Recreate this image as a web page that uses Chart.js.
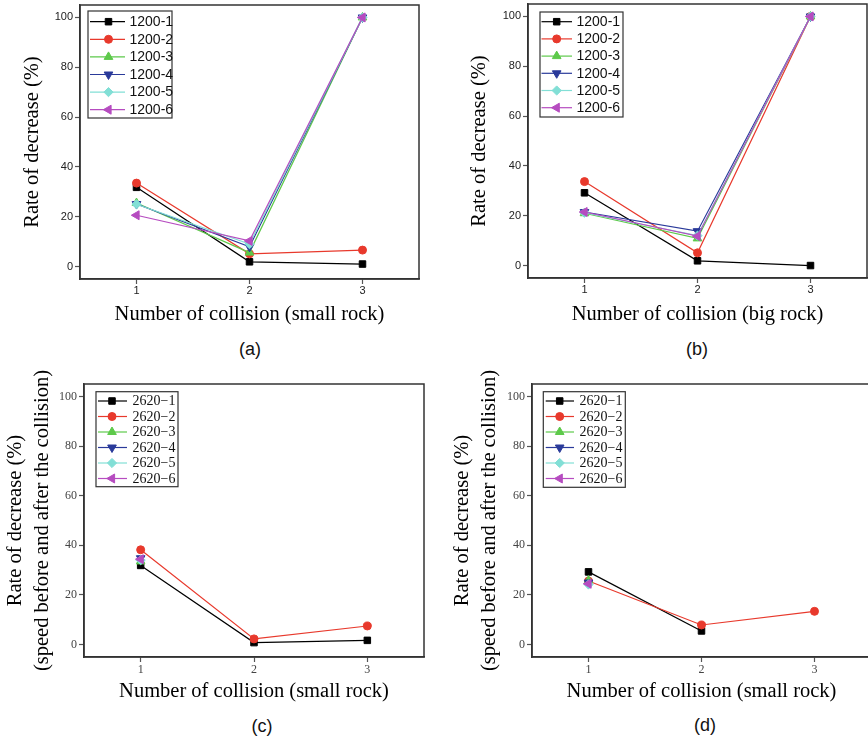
<!DOCTYPE html>
<html>
<head>
<meta charset="utf-8">
<script src="https://cdn.jsdelivr.net/npm/chart.js"></script>
<style>
  html, body { margin:0; padding:0; background:#fff; }
  body { width:868px; height:739px; overflow:hidden; position:relative; }
  canvas { position:absolute; }
  .cap { position:absolute; font-family:'Liberation Sans', Arial, sans-serif; font-size:18px; color:#111; transform:translate(-50%,-50%); white-space:nowrap; }
</style>
</head>
<body>
<canvas id="ca" width="434" height="330" style="left:0px;top:0px;width:434px;height:330px"></canvas>
<canvas id="cb" width="434" height="330" style="left:434px;top:0px;width:434px;height:330px"></canvas>
<canvas id="cc" width="434" height="340" style="left:0px;top:370px;width:434px;height:340px"></canvas>
<canvas id="cd" width="440" height="340" style="left:434px;top:370px;width:440px;height:340px"></canvas>
<div class="cap" style="left:250px;top:349px">(a)</div>
<div class="cap" style="left:697px;top:349px">(b)</div>
<div class="cap" style="left:262px;top:726px">(c)</div>
<div class="cap" style="left:705px;top:725px">(d)</div>
<script>
// ---------- data ----------
const categories = ['1', '2', '3'];
const yTickValues = [0, 20, 40, 60, 80, 100];

const names1200 = ['1200-1', '1200-2', '1200-3', '1200-4', '1200-5', '1200-6'];
const names2620 = ['2620\u22121', '2620\u22122', '2620\u22123', '2620\u22124', '2620\u22125', '2620\u22126'];

// (a) small rock, 1200
const a1 = [31.8, 1.9, 1.0];
const a2 = [33.5, 5.1, 6.6];
const a3 = [25.5, 5.6, 100];
const a4 = [25.1, 7.9, 100];
const a5 = [25.0, 9.0, 100];
const a6 = [20.6, 10.3, 100];

// (b) big rock, 1200
const b1 = [29.2, 1.9, 0];
const b2 = [33.7, 5.1, 100];
const b3 = [21.0, 10.9, 100];
const b4 = [21.5, 13.8, 100];
const b5 = [21.2, 12.0, 100];
const b6 = [21.5, 11.8, 100];

// (c) small rock, 2620
const c1 = [31.9, 0.8, 1.7];
const c2 = [38.2, 2.3, 7.5];
const c3 = [33.5, null, null];
const c4 = [34.8, null, null];
const c5 = [34.0, null, null];
const c6 = [34.4, null, null];

// (d) small rock, 2620
const d1 = [29.3, 5.5, null];
const d2 = [25.6, 7.9, 13.4];
const d3 = [25.8, null, null];
const d4 = [25.0, null, null];
const d5 = [24.2, null, null];
const d6 = [24.5, null, null];

// ---------- styles ----------
const seriesColors = ['#000000', '#e8392c', '#5dc94a', '#2a3a9a', '#82dfd6', '#b64cc0'];
const pointStyles = ['rect', 'circle', 'triangle', 'triangle', 'rectRot', 'triangle'];
const pointRotations = [0, 0, 0, 180, 0, -90];
const pointRadii = [4.6, 4.0, 5.0, 5.0, 4.6, 5.2];

function drawMarker(ctx, style, rotation, radius, x, y) {
  if (Chart.helpers && Chart.helpers.drawPoint) {
    Chart.helpers.drawPoint(ctx, {pointStyle: style, rotation: rotation, radius: radius, borderWidth: 1}, x, y);
    return;
  }
  ctx.beginPath();
  ctx.arc(x, y, radius, 0, Math.PI * 2);
  ctx.fill();
}

const framePlugin = {
  id: 'frameBox',
  afterDraw(chart, args, o) {
    const ctx = chart.ctx, ca = chart.chartArea;
    ctx.save();
    ctx.strokeStyle = o.color;
    ctx.lineWidth = o.width;
    ctx.strokeRect(ca.left, ca.top, ca.right - ca.left, ca.bottom - ca.top);
    ctx.restore();
  }
};

const lineLegend = {
  id: 'lineLegend',
  afterDraw(chart, args, o) {
    const ctx = chart.ctx;
    ctx.save();
    ctx.fillStyle = '#fff';
    ctx.fillRect(o.x, o.y, o.w, o.h);
    ctx.strokeStyle = '#333';
    ctx.lineWidth = 1.2;
    ctx.strokeRect(o.x, o.y, o.w, o.h);
    chart.data.datasets.forEach((ds, i) => {
      const y = o.row0 + i * o.dy;
      ctx.strokeStyle = ds.borderColor;
      ctx.lineWidth = ds.borderWidth;
      ctx.beginPath();
      ctx.moveTo(o.lx1, y);
      ctx.lineTo(o.lx2, y);
      ctx.stroke();
      ctx.fillStyle = ds.pointBackgroundColor;
      ctx.strokeStyle = ds.pointBorderColor;
      ctx.lineWidth = 1;
      drawMarker(ctx, ds.pointStyle, ds.pointRotation, ds.pointRadius, o.mx, y);
      ctx.fillStyle = '#111';
      ctx.font = o.font;
      ctx.textBaseline = 'middle';
      ctx.textAlign = 'left';
      ctx.fillText(ds.label, o.tx, y + 0.5);
    });
    ctx.restore();
  }
};

function makePanel(id, p) {
  const datasets = p.series.map((vals, i) => ({
    label: p.names[i],
    data: vals,
    borderColor: seriesColors[i],
    backgroundColor: seriesColors[i],
    pointBackgroundColor: seriesColors[i],
    pointBorderColor: seriesColors[i],
    pointBorderWidth: 1,
    borderWidth: 1.2,
    pointStyle: pointStyles[i],
    pointRotation: pointRotations[i],
    pointRadius: pointRadii[i],
    tension: 0,
    spanGaps: false,
    order: 5 - i
  }));
  const tickFont = {family: p.tickFamily, size: p.tickSize};
  const gridCfg = {display: true, drawOnChartArea: false, drawTicks: true, tickLength: 5, tickColor: '#555', tickWidth: 1.2, offset: false};
  const borderCfg = {display: true, color: '#333', width: 1.5};
  new Chart(document.getElementById(id), {
    type: 'line',
    data: {labels: categories, datasets: datasets},
    plugins: [framePlugin, lineLegend],
    options: {
      responsive: false,
      animation: false,
      events: [],
      layout: {padding: p.padding, autoPadding: false},
      plugins: {
        legend: {display: false},
        tooltip: {enabled: false},
        frameBox: {color: '#333', width: 1.5},
        lineLegend: p.legend
      },
      scales: {
        x: {
          type: 'category',
          offset: true,
          grid: gridCfg,
          border: borderCfg,
          ticks: {font: tickFont, color: p.tickColor, padding: p.xTickPad, maxRotation: 0, autoSkip: false},
          title: {display: true, text: p.xTitle, color: '#000',
                  font: {family: "'Liberation Serif', 'Times New Roman', serif", size: 20.5, lineHeight: 1.2},
                  padding: {top: 0, bottom: p.xTitlePad}},
          afterFit: s => { s.height = p.xHeight; s.paddingLeft = 0; s.paddingRight = 0; }
        },
        y: {
          type: 'linear',
          min: -5,
          max: 105,
          afterBuildTicks: s => { s.ticks = yTickValues.map(v => ({value: v})); },
          grid: gridCfg,
          border: borderCfg,
          ticks: {font: tickFont, color: p.tickColor, padding: 2},
          title: {display: true, text: p.yTitle, color: '#000',
                  font: {family: "'Liberation Serif', 'Times New Roman', serif", size: 20.5, lineHeight: p.yLineHeight},
                  padding: {top: p.yTitlePad, bottom: 0}},
          afterFit: s => { s.width = p.yWidth; s.paddingTop = 0; s.paddingBottom = 0; }
        }
      }
    }
  });
}

const sansTick = "'Liberation Sans', Arial, sans-serif";
const serifTick = "'Liberation Serif', 'Times New Roman', serif";

makePanel('ca', {
  names: names1200, series: [a1, a2, a3, a4, a5, a6],
  padding: {left: 0, top: 5, right: 15, bottom: 0},
  yWidth: 80, xHeight: 51, xTitlePad: 3, yTitlePad: 20, yLineHeight: 1.2,
  tickFamily: sansTick, tickSize: 11, tickColor: '#222', xTickPad: 0,
  xTitle: 'Number of collision (small rock)',
  yTitle: 'Rate of decrease (%)',
  legend: {x: 88, y: 11, w: 84, h: 107, row0: 21.7, dy: 17.6, lx1: 90, lx2: 125, mx: 108.5, tx: 129.5,
           font: "14px 'Liberation Sans', Arial, sans-serif"}
});

makePanel('cb', {
  names: names1200, series: [b1, b2, b3, b4, b5, b6],
  padding: {left: 0, top: 4, right: 1, bottom: 0},
  yWidth: 94, xHeight: 52, xTitlePad: 3, yTitlePad: 33, yLineHeight: 1.2,
  tickFamily: sansTick, tickSize: 11, tickColor: '#222', xTickPad: 0,
  xTitle: 'Number of collision (big rock)',
  yTitle: 'Rate of decrease (%)',
  legend: {x: 106, y: 12, w: 83, h: 105, row0: 21.7, dy: 17.2, lx1: 107.5, lx2: 138, mx: 122.7, tx: 142.5,
           font: "14px 'Liberation Sans', Arial, sans-serif"}
});

makePanel('cc', {
  names: names2620, series: [c1, c2, c3, c4, c5, c6],
  padding: {left: 0, top: 14, right: 10, bottom: 0},
  yWidth: 84, xHeight: 53, xTitlePad: 6, yTitlePad: 1.5, yLineHeight: 1.33,
  tickFamily: serifTick, tickSize: 12, tickColor: '#444', xTickPad: 1,
  xTitle: 'Number of collision (small rock)',
  yTitle: ['Rate of decrease (%)', '(speed before and after the collision)'],
  legend: {x: 96, y: 21.7, w: 82, h: 95, row0: 31, dy: 15.5, lx1: 98, lx2: 127, mx: 112, tx: 132.5,
           font: "14px 'Liberation Serif', 'Times New Roman', serif"}
});

makePanel('cd', {
  names: names2620, series: [d1, d2, d3, d4, d5, d6],
  padding: {left: 0, top: 14, right: 3, bottom: 0},
  yWidth: 98, xHeight: 53, xTitlePad: 6, yTitlePad: 14.5, yLineHeight: 1.33,
  tickFamily: serifTick, tickSize: 12, tickColor: '#444', xTickPad: 1,
  xTitle: 'Number of collision (small rock)',
  yTitle: ['Rate of decrease (%)', '(speed before and after the collision)'],
  legend: {x: 109.3, y: 21.7, w: 82, h: 95.6, row0: 31, dy: 15.5, lx1: 111.7, lx2: 140, mx: 125.7, tx: 145.5,
           font: "14px 'Liberation Serif', 'Times New Roman', serif"}
});
</script>
</body>
</html>
